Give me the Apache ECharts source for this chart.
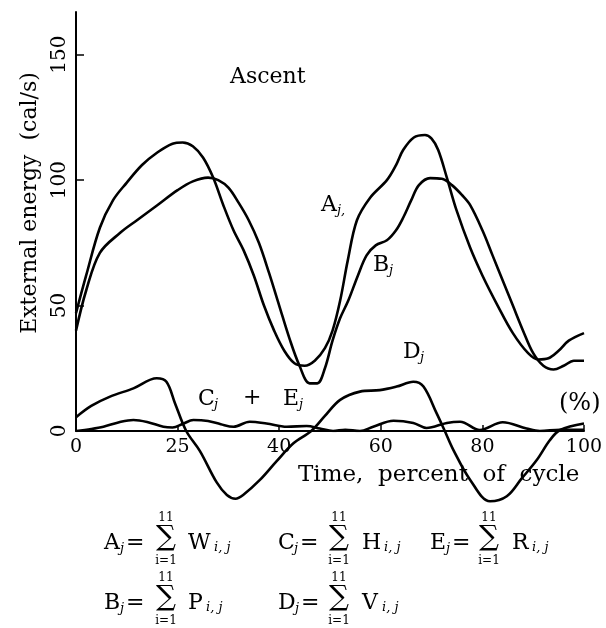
<!DOCTYPE html>
<html>
<head>
<meta charset="utf-8">
<style>html,body{margin:0;padding:0;background:#fff;}#c{width:606px;height:628px;}</style>
<script src="https://cdn.jsdelivr.net/npm/echarts@6/dist/echarts.min.js"></script>
</head>
<body>
<div id="c"></div>
<script>
// ---- data (x = time, % of cycle; y = external energy, cal/s) ----
const xTickValues = [0, 20, 40, 60, 80, 100];
const xTickText   = ['0', '25', '40', '60', '80', '100'];
const yTickValues = [0, 50, 100, 150];

const seriesA = [[0,47],[2,62],[4.7,81],[7.3,92],[10,99],[13,106],[16,111],[19,114.5],[21,115],[23,113.5],[25,109],[27,101],[29,90],[31,80],[33,72],[35,62],[37,50],[39,40],[41,32],[43,27],[45,26],[47,28],[49,33],[50.5,40],[52,52],[53.5,68],[55.3,84],[57.9,93],[61.2,100],[63,106],[64.4,112],[66.5,117],[68.7,118],[70,116.5],[71.3,112],[73,101],[74.9,88],[77.6,73],[80,62],[83,50],[86,39],[89,31],[91,28.5],[93,29],[95,32],[97,36],[100,39]];
const seriesB = [[0,40],[2,56],[4.7,71],[8.7,79],[12,84],[16,90],[20,96],[23,99.5],[26,101],[28,100],[30,97],[32,91],[34,84],[36,75],[38,63],[40,50],[42,37],[44,26],[46,19],[47.5,19],[49,25],[50.5,36],[52,45],[53.6,52],[55.5,62],[57.2,70],[59,74],[61.2,76],[63,80],[64.4,85],[66,92],[67.5,98],[69.7,100.8],[72,100.5],[74,98],[76,94],[77.6,90],[80,80],[82,70],[84,60],[86,50],[88,40],[90,31],[92,26],[94,24.5],[96,26],[98,28],[100,28]];
const seriesD = [[0,5.5],[3,10],[6.7,13.7],[11.3,17],[15.9,21],[17.8,19.6],[19.5,11],[21.7,0],[24.4,-8],[27.7,-20.5],[29.7,-25.5],[31.4,-27],[32.9,-25.5],[36.2,-19.5],[39.5,-12],[42.8,-4.9],[46.3,0],[49,6],[52,12.4],[55.9,15.7],[59.8,16.3],[63.1,17.7],[66.4,19.6],[68.4,17.7],[71,7],[72.6,0],[74.3,-7.6],[77.6,-19.5],[81.5,-28],[84.8,-26],[87.7,-19],[90.7,-11.6],[93.3,-3.6],[95.3,0.4],[100,3]];
const seriesCE = [[0,0],[3,0.8],[5.4,1.7],[8.5,3.5],[11.3,4.4],[14,3.6],[17.2,1.7],[19,1.4],[21,2.8],[23.1,4.4],[26,4],[28.5,2.7],[31,1.7],[34.2,3.7],[37.5,3],[41.5,1.7],[45.4,2],[48,1],[50.6,0],[53,0.5],[55.9,0],[58.5,1.7],[62.5,4.1],[66.4,3.2],[69,1.2],[73,3.2],[75.6,3.7],[79.5,0.4],[84,3.5],[88.7,1],[91.3,0],[95.3,0.5],[100,0.5]];

// ---- chart ----
const FONT = 'DejaVu Serif';
const chart = echarts.init(document.getElementById('c'), null, {renderer: 'canvas'});

function txt(x, y, text, size, style) {
  return {
    type: 'text', x: x, y: y, silent: true,
    style: Object.assign({
      text: text, fill: '#000', fontFamily: FONT, fontSize: size,
      textAlign: 'left', textVerticalAlign: 'middle', align: 'left', verticalAlign: 'middle'
    }, style || {})
  };
}
function ctr(x, y, text, size) {
  return txt(x, y, text, size, {textAlign: 'center', align: 'center'});
}
function ital(x, y, text, size) {
  return txt(x, y, text, size, {fontStyle: 'italic'});
}
// label with italic subscript j
function labelJ(x, y, letter, size, lw, tail) {
  return [txt(x, y, letter, size), ital(x + lw, y + 6, 'j' + (tail || ''), 13)];
}
function formula(x0, yc, L, lw, sigmaC, op, opX, opW) {
  return [
    txt(x0, yc, L, 22), ital(x0 + lw, yc + 6, 'j', 13),
    txt(x0 + lw + 6, yc, '=', 22),
    ctr(sigmaC, yc - 5, '\u2211', 28),
    ctr(sigmaC, yc - 25, '11', 12),
    ctr(sigmaC, yc + 18, 'i=1', 12),
    txt(opX, yc, op, 22),
    ital(opX + opW + 3, yc + 5, 'i, j', 13)
  ];
}

const graphics = [].concat(
  [ {type: 'text', x: 30, y: 203, rotation: Math.PI / 2, silent: true,
      style: {text: 'External energy  (cal/s)', fill: '#000', fontFamily: FONT, fontSize: 22,
              textAlign: 'center', textVerticalAlign: 'middle', align: 'center', verticalAlign: 'middle'}} ],
  [ txt(298, 475, 'Time,  percent  of  cycle', 23) ],
  [ txt(559, 404, '(%)', 24) ],
  [ txt(230, 77, 'Ascent', 22) ],
  labelJ(321, 205, 'A', 22, 16, ','),
  labelJ(373, 265, 'B', 22, 16),
  labelJ(403, 352, 'D', 22, 17),
  labelJ(198, 399, 'C', 22, 16),
  [ txt(243, 398, '+', 22) ],
  labelJ(283, 399, 'E', 22, 16),
  formula(104, 543, 'A', 16, 166, 'W', 188, 23),
  formula(278, 543, 'C', 16, 339, 'H', 362, 19),
  formula(430, 543, 'E', 16, 489, 'R', 512, 17),
  formula(104, 603, 'B', 16, 166, 'P', 188, 15),
  formula(278, 603, 'D', 17, 339, 'V', 362, 17)
);

const lineStyle = {color: '#000', width: 2.6};
function mk(name, data, clip) {
  return {name: name, type: 'line', data: data, smooth: 0.35, showSymbol: false,
          lineStyle: lineStyle, clip: clip, silent: true, animation: false, z: 3};
}

chart.setOption({
  animation: false,
  backgroundColor: '#fff',
  grid: {left: 76, right: 22, top: 12, bottom: 197, containLabel: false},
  xAxis: {
    type: 'value', min: 0, max: 100, interval: 20,
    axisLine: {show: true, onZero: false, lineStyle: {color: '#000', width: 2}},
    axisTick: {show: true, inside: true, length: 6, lineStyle: {color: '#000', width: 1.5}, customValues: xTickValues},
    axisLabel: {show: true, color: '#000', fontFamily: FONT, fontSize: 19, margin: 7,
                customValues: xTickValues,
                formatter: function (v) { const i = xTickValues.indexOf(v); return i >= 0 ? xTickText[i] : ''; }},
    splitLine: {show: false}
  },
  yAxis: {
    type: 'value', min: 0, max: 167, interval: 50,
    axisLine: {show: true, onZero: false, lineStyle: {color: '#000', width: 2}},
    axisTick: {show: true, inside: true, length: 8, lineStyle: {color: '#000', width: 1.5}, customValues: yTickValues},
    axisLabel: {show: true, color: '#000', fontFamily: FONT, fontSize: 20, rotate: 90, margin: 6,
                customValues: yTickValues},
    splitLine: {show: false}
  },
  series: [
    mk('Aj', seriesA, true),
    mk('Bj', seriesB, true),
    mk('Dj', seriesD, false),
    mk('Cj + Ej', seriesCE, true)
  ],
  graphic: graphics
});
</script>
</body>
</html>
